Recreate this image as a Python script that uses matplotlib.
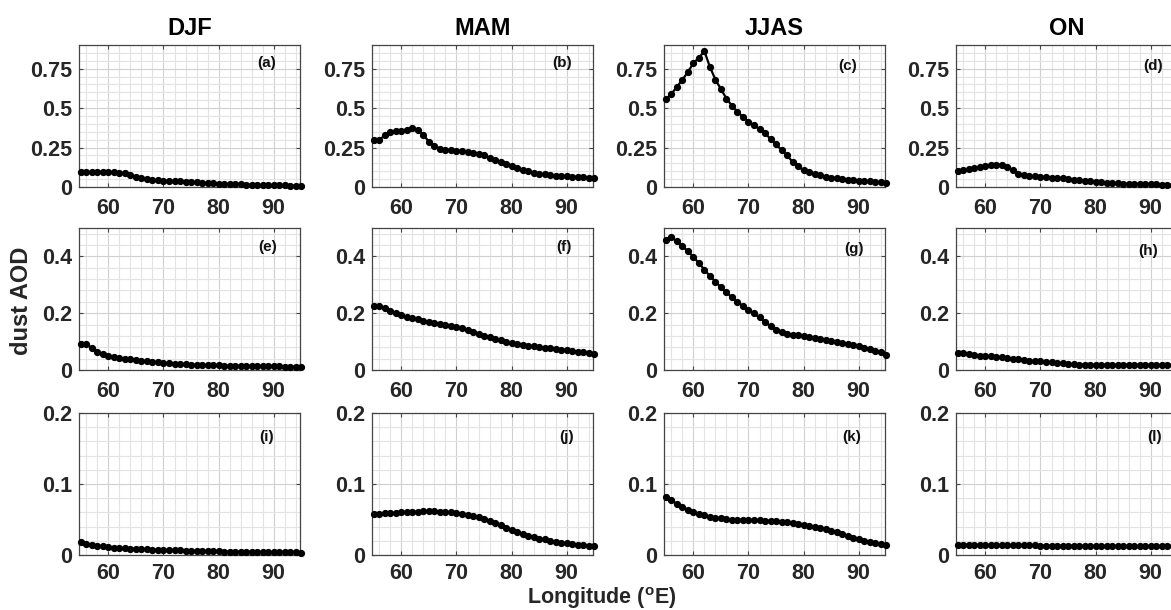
import numpy as np
import matplotlib
matplotlib.use("Agg")
import matplotlib.pyplot as plt
from matplotlib.ticker import MultipleLocator

plt.rcParams['font.family'] = ['Liberation Sans', 'DejaVu Sans']
plt.rcParams['font.weight'] = 'bold'
plt.rcParams['mathtext.fontset'] = 'custom'
plt.rcParams['mathtext.rm'] = 'Liberation Sans:bold'
plt.rcParams['mathtext.bf'] = 'Liberation Sans:bold'

lon = np.arange(55, 96, 1)

seasons = ["DJF", "MAM", "JJAS", "ON"]
panel_labels = ["(a)", "(b)", "(c)", "(d)", "(e)", "(f)", "(g)", "(h)", "(i)", "(j)", "(k)", "(l)"]

row_ylim = [0.9, 0.5, 0.2]
row_yticks = [[0, 0.25, 0.5, 0.75], [0, 0.2, 0.4], [0, 0.1, 0.2]]
row_yticklabels = [["0", "0.25", "0.5", "0.75"], ["0", "0.2", "0.4"], ["0", "0.1", "0.2"]]
row_yminor = [0.05, 0.04, 0.02]
xticks = [60, 70, 80, 90]

# Row 1
aod_a = [0.093, 0.092, 0.095, 0.097, 0.095, 0.093, 0.092, 0.090, 0.086, 0.078, 0.066,
         0.055, 0.048, 0.045, 0.043, 0.041, 0.039, 0.037, 0.036, 0.034, 0.032, 0.030,
         0.028, 0.026, 0.024, 0.022, 0.020, 0.019, 0.017, 0.016, 0.015, 0.014, 0.013,
         0.012, 0.011, 0.011, 0.010, 0.010, 0.009, 0.009, 0.008]
aod_b = [0.297, 0.300, 0.328, 0.350, 0.354, 0.356, 0.364, 0.375, 0.364, 0.330, 0.286,
         0.258, 0.244, 0.237, 0.233, 0.231, 0.227, 0.222, 0.216, 0.208, 0.200, 0.186,
         0.174, 0.161, 0.148, 0.133, 0.121, 0.110, 0.100, 0.091, 0.085, 0.080, 0.076,
         0.072, 0.070, 0.068, 0.066, 0.064, 0.062, 0.060, 0.059]
aod_c = [0.555, 0.590, 0.635, 0.680, 0.730, 0.785, 0.820, 0.860, 0.760, 0.680, 0.620,
         0.560, 0.515, 0.475, 0.445, 0.415, 0.390, 0.368, 0.340, 0.305, 0.270, 0.235,
         0.200, 0.160, 0.130, 0.105, 0.093, 0.082, 0.073, 0.066, 0.060, 0.055, 0.050,
         0.047, 0.044, 0.041, 0.038, 0.035, 0.032, 0.030, 0.028]
aod_d = [0.100, 0.105, 0.113, 0.120, 0.125, 0.130, 0.137, 0.142, 0.138, 0.128, 0.105,
         0.085, 0.075, 0.071, 0.068, 0.066, 0.063, 0.060, 0.057, 0.054, 0.050, 0.047,
         0.043, 0.039, 0.036, 0.033, 0.030, 0.028, 0.026, 0.024, 0.022, 0.021, 0.020,
         0.019, 0.018, 0.017, 0.016, 0.015, 0.014, 0.014, 0.013]
# Row 2
aod_e = [0.092, 0.090, 0.078, 0.065, 0.056, 0.050, 0.045, 0.042, 0.040, 0.038, 0.035,
         0.033, 0.031, 0.028, 0.027, 0.025, 0.023, 0.022, 0.021, 0.020, 0.019, 0.018,
         0.017, 0.017, 0.016, 0.016, 0.015, 0.015, 0.015, 0.014, 0.014, 0.014, 0.014,
         0.013, 0.013, 0.013, 0.013, 0.012, 0.012, 0.012, 0.012]
aod_f = [0.225, 0.226, 0.217, 0.207, 0.199, 0.192, 0.187, 0.183, 0.179, 0.174, 0.169,
         0.166, 0.162, 0.159, 0.155, 0.151, 0.148, 0.142, 0.135, 0.128, 0.121, 0.115,
         0.109, 0.104, 0.099, 0.096, 0.092, 0.089, 0.086, 0.084, 0.082, 0.079, 0.077,
         0.075, 0.072, 0.070, 0.067, 0.065, 0.063, 0.060, 0.058]
aod_g = [0.459, 0.467, 0.453, 0.436, 0.418, 0.398, 0.376, 0.353, 0.331, 0.311, 0.291,
         0.273, 0.256, 0.240, 0.225, 0.211, 0.199, 0.185, 0.169, 0.154, 0.142, 0.133,
         0.128, 0.124, 0.122, 0.120, 0.117, 0.114, 0.110, 0.107, 0.103, 0.099, 0.096,
         0.092, 0.089, 0.084, 0.079, 0.073, 0.067, 0.062, 0.054]
aod_h = [0.061, 0.059, 0.056, 0.053, 0.051, 0.050, 0.048, 0.047, 0.045, 0.042, 0.040,
         0.038, 0.035, 0.033, 0.031, 0.030, 0.029, 0.028, 0.025, 0.023, 0.021, 0.020,
         0.019, 0.019, 0.018, 0.018, 0.018, 0.018, 0.018, 0.018, 0.018, 0.018, 0.018,
         0.018, 0.018, 0.018, 0.018, 0.018, 0.018, 0.018, 0.018]
# Row 3
aod_i = [0.019, 0.016, 0.014, 0.013, 0.012, 0.011, 0.0104, 0.0099, 0.0095, 0.0090, 0.0085,
         0.0082, 0.0079, 0.0076, 0.0073, 0.0070, 0.0068, 0.0066, 0.0064, 0.0062, 0.0060,
         0.0058, 0.0056, 0.0054, 0.0052, 0.0050, 0.0049, 0.0048, 0.0047, 0.0046, 0.0045,
         0.0044, 0.0043, 0.0042, 0.0041, 0.0040, 0.0039, 0.0038, 0.0037, 0.0036, 0.0035]
aod_j = [0.058, 0.058, 0.0586, 0.059, 0.0595, 0.060, 0.0605, 0.061, 0.061, 0.0615, 0.0615,
         0.0615, 0.061, 0.0605, 0.060, 0.059, 0.058, 0.057, 0.055, 0.053, 0.051, 0.048,
         0.045, 0.042, 0.038, 0.035, 0.032, 0.029, 0.027, 0.025, 0.023, 0.022, 0.020,
         0.019, 0.0175, 0.0165, 0.0156, 0.0147, 0.0137, 0.0128, 0.012]
aod_k = [0.081, 0.077, 0.072, 0.067, 0.064, 0.060, 0.058, 0.056, 0.054, 0.0525, 0.0515,
         0.0506, 0.050, 0.0497, 0.0495, 0.049, 0.049, 0.0488, 0.0485, 0.048, 0.0476, 0.047,
         0.046, 0.045, 0.044, 0.0425, 0.041, 0.040, 0.038, 0.036, 0.034, 0.032, 0.029,
         0.027, 0.0246, 0.022, 0.020, 0.019, 0.0175, 0.016, 0.0147]
aod_l = [0.0147, 0.0146, 0.0145, 0.0144, 0.0143, 0.0142, 0.0141, 0.0140, 0.0139, 0.0138,
         0.0137, 0.0136, 0.0135, 0.0134, 0.0134, 0.0133, 0.0133, 0.0132, 0.0132, 0.0131,
         0.0131, 0.0130, 0.0130, 0.0129, 0.0129, 0.0128, 0.0128, 0.0127, 0.0127, 0.0126,
         0.0126, 0.0125, 0.0125, 0.0124, 0.0124, 0.0123, 0.0123, 0.0122, 0.0122, 0.0121, 0.0120]

data = [[aod_a, aod_b, aod_c, aod_d],
        [aod_e, aod_f, aod_g, aod_h],
        [aod_i, aod_j, aod_k, aod_l]]

W, H = 1171, 610
fig = plt.figure(figsize=(W / 100, H / 100), dpi=100)

col_left = [79, 372, 664, 956]
row_top = [45, 228, 413]
row_xpad = [8, 8, 6]
ax_w, ax_h = 221, 142
label_pos = [[(0.85, 0.87), (0.86, 0.87), (0.83, 0.85), (0.89, 0.85)],
             [(0.855, 0.865), (0.87, 0.865), (0.86, 0.85), (0.87, 0.84)],
             [(0.85, 0.83), (0.88, 0.83), (0.85, 0.83), (0.90, 0.83)]]

tick_color = '#262626'
for r in range(3):
    for c in range(4):
        left = col_left[c] / W
        bottom = 1 - (row_top[r] + ax_h) / H
        ax = fig.add_axes([left, bottom, ax_w / W, ax_h / H])
        ax.set_xlim(54.65, 94.8)
        ax.set_ylim(0, row_ylim[r])
        ax.xaxis.set_minor_locator(MultipleLocator(2))
        ax.yaxis.set_minor_locator(MultipleLocator(row_yminor[r]))
        ax.set_xticks(xticks)
        ax.set_xticklabels([str(t) for t in xticks])
        ax.set_yticks(row_yticks[r])
        ax.set_yticklabels(row_yticklabels[r])
        ax.grid(which='minor', color='#e3e3e3', linewidth=0.8)
        ax.grid(which='major', color='#d0d0d0', linewidth=0.8)
        ax.set_axisbelow(True)
        ax.tick_params(which='major', direction='in', length=3, width=0.8,
                       top=True, right=True, color='#444444',
                       labelsize=15.5, labelcolor=tick_color)
        ax.tick_params(axis='x', which='major', pad=row_xpad[r])
        ax.tick_params(axis='y', which='major', pad=5)
        ax.tick_params(which='minor', length=0)
        for lab in ax.get_xticklabels() + ax.get_yticklabels():
            lab.set_fontweight('bold')
        for sp in ax.spines.values():
            sp.set_color('#444444')
            sp.set_linewidth(0.9)
        ax.plot(lon, data[r][c], color='black', linewidth=1.6, marker='o',
                markersize=4.2, clip_on=False, zorder=3)
        lx, ly = label_pos[r][c]
        ax.text(lx, ly, panel_labels[r * 4 + c], transform=ax.transAxes,
                ha='center', va='center', fontsize=11, fontweight='bold',
                color='#111111')
        if r == 0:
            ax.set_title(seasons[c], fontsize=17, fontweight='bold', pad=7,
                         color='black')

fig.text(22 / W, 1 - 301 / H, 'dust AOD', rotation=90, ha='center', va='center',
         fontsize=17, fontweight='bold', color=tick_color)
fig.text(602 / W, 1 - 598 / H, r'Longitude ($\mathregular{^{o}}$E)', ha='center',
         va='center', fontsize=15.5, fontweight='bold', color=tick_color)

fig.savefig('out.png', dpi=100)
